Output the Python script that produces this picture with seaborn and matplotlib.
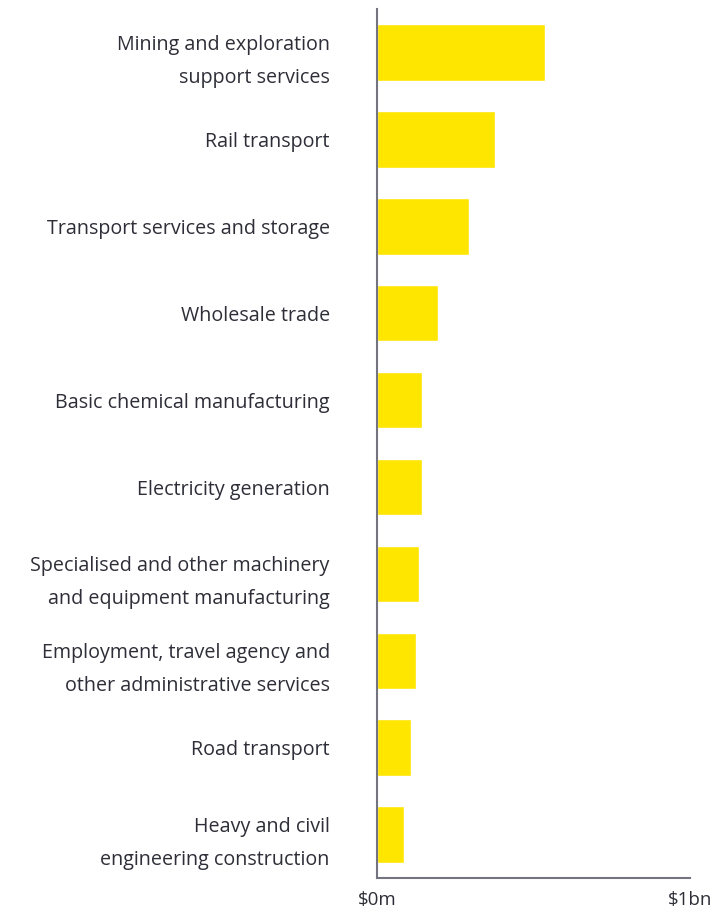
import matplotlib
matplotlib.use("Agg")
import matplotlib.pyplot as plt
import seaborn as sns
import pandas as pd

categories = [
    "Mining and exploration\nsupport services",
    "Rail transport",
    "Transport services and storage",
    "Wholesale trade",
    "Basic chemical manufacturing",
    "Electricity generation",
    "Specialised and other machinery\nand equipment manufacturing",
    "Employment, travel agency and\nother administrative services",
    "Road transport",
    "Heavy and civil\nengineering construction",
]
values_bn = [0.538, 0.378, 0.295, 0.194, 0.145, 0.145, 0.135, 0.123, 0.109, 0.087]
tick_values = [0, 1]
tick_labels = ["$0m", "$1bn"]

df = pd.DataFrame({"category": categories, "value": values_bn})

sns.set_style("white")
plt.rcParams["font.family"] = ["Open Sans", "DejaVu Sans"]

fig = plt.figure(figsize=(7.15, 9.11), dpi=100)
ax = fig.add_axes([0.5273, 0.0362, 0.965 - 0.5273, 0.990 - 0.0362])

sns.barplot(data=df, y="category", x="value", orient="h", color="#FFE600",
            saturation=1, width=0.65, ax=ax)

ax.set_xlim(0, 1)
ax.set_ylim(len(categories) - 0.5, -0.5)
ax.set_xticks(tick_values)
ax.set_xticklabels(tick_labels)
ax.set_xlabel("")
ax.set_ylabel("")

for s in ["top", "right"]:
    ax.spines[s].set_visible(False)
for s in ["left", "bottom"]:
    ax.spines[s].set_visible(True)
    ax.spines[s].set_color("#747480")
    ax.spines[s].set_linewidth(1.5)

ax.tick_params(axis="y", length=0, pad=34, labelsize=14.2, labelcolor="#2E2E38")
ax.tick_params(axis="x", length=0, pad=9, labelsize=13.5, labelcolor="#2E2E38")
for lbl in ax.get_yticklabels():
    lbl.set_horizontalalignment("right")
    lbl.set_linespacing(1.85)

fig.savefig("out.png", dpi=100, facecolor="white")
